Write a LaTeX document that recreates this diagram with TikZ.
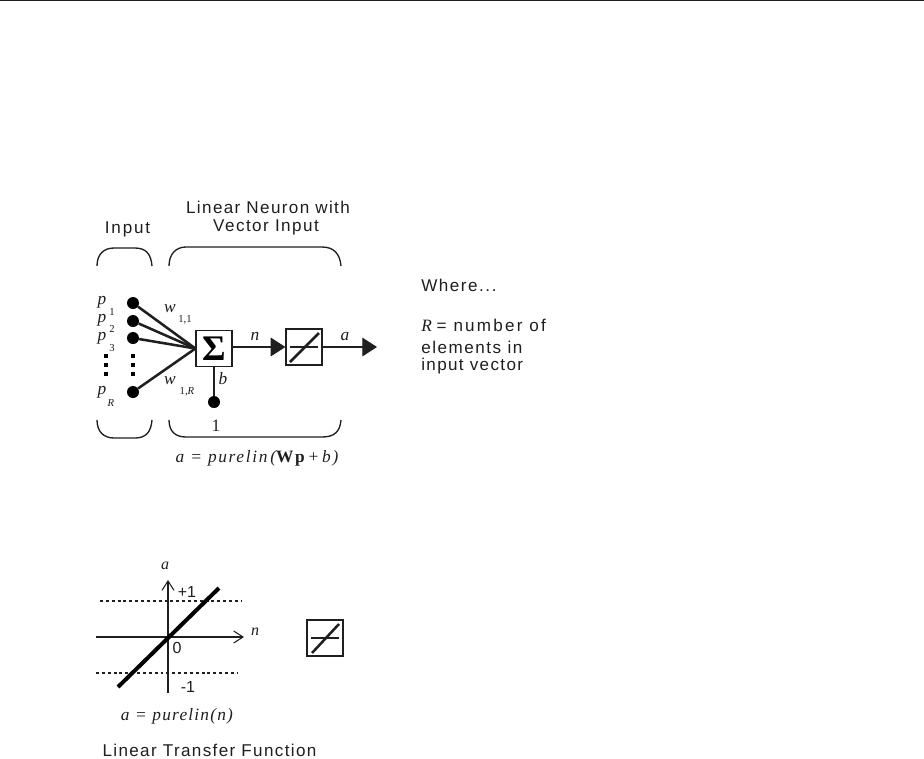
\documentclass[tikz,border=0pt]{standalone}
\usepackage{fontspec}
\setmainfont{Liberation Serif}
\newfontfamily\lab{Liberation Sans}
\usetikzlibrary{arrows.meta}
\definecolor{ink}{gray}{0.12}
\newcommand{\lsp}[1]{\addfontfeature{LetterSpace=#1}}
\tikzset{
 x=0.75pt,y=-0.75pt,
 txt/.style={font=\lab\fontsize{12.8}{15}\selectfont,text=ink,inner sep=0pt},
 mth/.style={font=\itshape\fontsize{13}{15}\selectfont,text=ink,inner sep=0pt},
 sub/.style={font=\fontsize{8}{9}\selectfont,text=ink,inner sep=0pt},
 dot/.style={circle,fill=black,inner sep=0pt,minimum size=9pt},
 bx/.style={draw=ink,line width=0.9pt,fill=white,inner sep=0pt,minimum width=27pt,minimum height=27pt},
 wire/.style={line width=1.9pt,draw=ink},
 thin wire/.style={line width=0.8pt,draw=ink},
 brace/.style={line width=1pt,draw=ink},
 head/.style={-{Triangle[length=11pt,width=14pt]},line width=0.8pt,draw=ink},
}
\begin{document}
\begin{tikzpicture}
\useasboundingbox (0,0) rectangle (924,758);
\fill[white] (0,0) rectangle (924,758);
\draw[line width=0.9pt,draw=ink] (0,0.8) -- (924,0.8);
% titles
\node[txt] (tInput) at (127.5,229.5) {\lsp{11}Input};
\node[txt] (tL1) at (268,207) {\lsp{8}Linear Neuron with};
\node[txt] (tL2) at (266,227) {\lsp{8.5}Vector Input};
% braces
\draw[brace] (97,266) .. controls (97,254) and (104,248) .. (114,248) -- (135,248) .. controls (146,248) and (151,254) .. (152,266);
\draw[brace] (97,420) .. controls (97,432) and (104,438) .. (114,438) -- (135,438) .. controls (146,438) and (151,432) .. (152,420);
\draw[brace] (169,266) .. controls (169,254) and (176,247) .. (186,247) -- (322,247) .. controls (334,247) and (340,254) .. (341,266);
\draw[brace] (169,420) .. controls (169,432) and (176,437) .. (186,437) -- (322,437) .. controls (334,437) and (340,432) .. (341,420);
% inputs
\node[dot] (i1) at (133,303) {};
\node[dot] (i2) at (133,321) {};
\node[dot] (i3) at (133,338) {};
\node[dot] (iR) at (133,392) {};
\node[bx] (sum) at (214,348.5) {};
\node[font=\bfseries\fontsize{27}{29}\selectfont,text=black,inner sep=0pt] (sig) at (214,348.5) {Σ};
\coordinate (j) at (sum.west);
\draw[wire] (i1) -- (j);
\draw[wire] (i2) -- (j);
\draw[wire] (i3) -- (j);
\draw[wire] (iR) -- (j);
\foreach \yy in {356,365,374}{\fill[black] (103.5,\yy-1.8) rectangle (107.5,\yy+1.8); \fill[black] (130.5,\yy-1.8) rectangle (134.5,\yy+1.8);}
% input labels
\node[mth] (p1) at (102,302) {p};
\node[sub] (p1s) at (112,312) {1};
\node[mth] (p2) at (102,320) {p};
\node[sub] (p2s) at (112,329) {2};
\node[mth] (p3) at (102,338) {p};
\node[sub] (p3t) at (112,348) {3};
\node[mth] (pR) at (102,392) {p};
\node[sub,font=\itshape\fontsize{8}{9}\selectfont] (pRs) at (111,403) {R};
\node[mth] (w1) at (170,309) {w};
\node[sub] (w1s) at (185,320) {1,1};
\node[mth] (wR) at (170,381) {w};
\node[sub] (wRs) at (187,392) {1,\textit{R}};
% bias
\node[dot] (bias) at (214,402) {};
\draw[thin wire] (sum.south) -- (bias);
\node[mth] (b) at (223,379) {b};
\node[font=\fontsize{13}{15}\selectfont,text=ink,inner sep=0pt] (one) at (216,426) {1};
% transfer box
\node[bx] (lin) at (304,347) {};
\coordinate (linL) at (290,347);
\coordinate (linR) at (318,347);
\coordinate (linA) at (290,362);
\coordinate (linB) at (319,333);
\draw[thin wire] (linL) -- (linR);
\draw[wire] (linA) -- (linB);
\coordinate (out) at (377,347);
\draw[head] (sum.east |- lin.west) -- (lin.west);
\draw[head] (lin.east) -- (out);
\node[mth] (n) at (255,336) {n};
\node[mth] (a) at (345,336) {a};
% equation
\node[mth] (eq) at (257,458) {\lsp{9.6}a = purelin\,({\upshape\bfseries Wp}\,+\,b)};
% where
\node[txt,anchor=west] (w) at (421,285) {\lsp{9}Where...};
\node[txt,anchor=west] (r1) at (421,325) {\textit{\rmfamily\fontsize{13}{15}\selectfont R} \lsp{13}= number of};
\node[txt,anchor=west] (r2) at (421,347) {\lsp{9}elements in};
\node[txt,anchor=west] (r3) at (421,366) {\lsp{8}input vector};
% plot
\coordinate (xl) at (96,637); \coordinate (xr) at (244,637);
\coordinate (yb) at (168,693); \coordinate (yt) at (168,580);
\draw[thin wire,-{Straight Barb[length=7pt,width=9pt]}] (xl) -- (xr);
\draw[thin wire,-{Straight Barb[length=7pt,width=9pt]}] (yb) -- (yt);
\draw[draw=ink,line width=0.8pt,dash pattern=on 2.2pt off 2.2pt] (100,601) -- (242,601);
\draw[draw=ink,line width=0.8pt,dash pattern=on 2.2pt off 2.2pt] (96,673) -- (238,673);
\draw[line width=3pt,draw=black] (118,687) -- (219,588);
\node[mth,font=\itshape\fontsize{12}{14}\selectfont] (pa) at (165,566) {a};
\node[mth,font=\itshape\fontsize{12}{14}\selectfont] (pn) at (255,632) {n};
\node[txt,font=\lab\fontsize{12}{14}\selectfont] (pp) at (187,592) {+1};
\node[txt,font=\lab\fontsize{12}{14}\selectfont] (p0) at (177,648) {0};
\node[txt,font=\lab\fontsize{12}{14}\selectfont] (pm) at (188,687) {-1};
\node[bx] (small) at (325,638) {};
\coordinate (sL) at (311,638); \coordinate (sR) at (339,638);
\coordinate (sA) at (312,653); \coordinate (sB) at (339,624);
\draw[thin wire] (sL) -- (sR);
\draw[wire] (sA) -- (sB);
\node[mth] (eq2) at (177,716) {\lsp{7}a = purelin(n)};
\node[txt] (cap) at (209.5,750) {\lsp{8}Linear Transfer Function};
\end{tikzpicture}
\end{document}
